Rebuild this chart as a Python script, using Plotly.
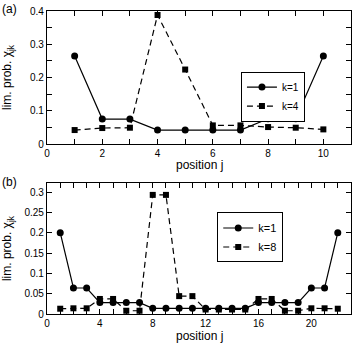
import plotly.graph_objects as go

# panel (a): N=10
pos_a = list(range(1, 11))
k1_a = [0.265, 0.075, 0.075, 0.042, 0.042, 0.042, 0.042, 0.076, 0.076, 0.265]
k4_a = [0.042, 0.048, 0.049, 0.388, 0.224, 0.056, 0.056, 0.051, 0.049, 0.044]

# panel (b): N=22
pos_b = list(range(1, 23))
k1_b = [0.200, 0.064, 0.064, 0.028, 0.028, 0.028, 0.028, 0.014, 0.014, 0.014, 0.014,
        0.014, 0.014, 0.014, 0.014, 0.028, 0.028, 0.028, 0.028, 0.064, 0.064, 0.200]
k8_b = [0.013, 0.014, 0.014, 0.037, 0.037, 0.008, 0.008, 0.293, 0.293, 0.044, 0.044,
        0.011, 0.011, 0.011, 0.011, 0.037, 0.037, 0.008, 0.008, 0.014, 0.014, 0.013]

FONT = "Liberation Sans"

fig = go.Figure()

fig.add_trace(go.Scatter(x=pos_a, y=k1_a, name="k=1", mode="lines+markers",
                         line=dict(color="black", width=1.2),
                         marker=dict(symbol="circle", size=7, color="black"),
                         xaxis="x", yaxis="y", legend="legend"))
fig.add_trace(go.Scatter(x=pos_a, y=k4_a, name="k=4", mode="lines+markers",
                         line=dict(color="black", width=1.2, dash="6px,4px"),
                         marker=dict(symbol="square", size=6, color="black"),
                         xaxis="x", yaxis="y", legend="legend"))
fig.add_trace(go.Scatter(x=pos_b, y=k1_b, name="k=1", mode="lines+markers",
                         line=dict(color="black", width=1.2),
                         marker=dict(symbol="circle", size=7, color="black"),
                         xaxis="x2", yaxis="y2", legend="legend2"))
fig.add_trace(go.Scatter(x=pos_b, y=k8_b, name="k=8", mode="lines+markers",
                         line=dict(color="black", width=1.2, dash="6px,4px"),
                         marker=dict(symbol="square", size=6, color="black"),
                         xaxis="x2", yaxis="y2", legend="legend2"))

axis_common = dict(showline=True, linecolor="black", linewidth=1.2, mirror="allticks",
                   ticks="inside", ticklen=5, tickwidth=1, tickcolor="black",
                   showgrid=False, zeroline=False, automargin=False,
                   tickfont=dict(family=FONT, size=10, color="black"))

ytitle = "lim. prob. χ<sub>jk</sub>"

fig.update_layout(
    width=353, height=344,
    margin=dict(l=47, r=2, t=11, b=30),
    paper_bgcolor="white", plot_bgcolor="white",
    font=dict(family=FONT, color="black"),
    xaxis=dict(domain=[0, 1], range=[0, 11], dtick=2, anchor="y",
               minor=dict(dtick=1, ticks="inside", ticklen=5, tickcolor="black"),
               **axis_common),
    yaxis=dict(domain=[0.561, 1], range=[0, 0.4], dtick=0.1, anchor="x",
               minor=dict(dtick=0.05, ticks="inside", ticklen=5, tickcolor="black"),
               title=dict(text=ytitle, font=dict(size=12)),
               **axis_common),
    xaxis2=dict(domain=[0, 1], range=[0, 23], dtick=4, anchor="y2",
                minor=dict(dtick=1, ticks="inside", ticklen=5, tickcolor="black"),
                **axis_common),
    yaxis2=dict(domain=[0, 0.432], range=[0, 0.322], dtick=0.05, anchor="x2",
                title=dict(text=ytitle, font=dict(size=12)),
                **axis_common),
    legend=dict(x=0.638, y=0.80, xanchor="left", yanchor="top",
                bordercolor="black", borderwidth=1, bgcolor="white",
                font=dict(family=FONT, size=10), tracegroupgap=0,
                itemwidth=30),
    legend2=dict(x=0.56, y=0.335, xanchor="left", yanchor="top",
                 bordercolor="black", borderwidth=1, bgcolor="white",
                 font=dict(family=FONT, size=11), tracegroupgap=0,
                 itemwidth=30),
    annotations=[
        dict(text="(a)", x=0, y=1, xref="paper", yref="paper", xanchor="left", yanchor="top",
             xshift=-47, yshift=11, showarrow=False, font=dict(size=12)),
        dict(text="(b)", x=0, y=0.466, xref="paper", yref="paper", xanchor="left", yanchor="top",
             xshift=-47, showarrow=False, font=dict(size=12)),
        dict(text="position j", x=0.5, y=0.491, xref="paper", yref="paper",
             xanchor="center", yanchor="middle", showarrow=False, font=dict(size=12)),
        dict(text="position j", x=0.5, y=-0.074, xref="paper", yref="paper",
             xanchor="center", yanchor="middle", showarrow=False, font=dict(size=12)),
    ],
)

fig.write_html("out.html", config={"displayModeBar": False},
               post_script="document.body.style.margin='0';")
